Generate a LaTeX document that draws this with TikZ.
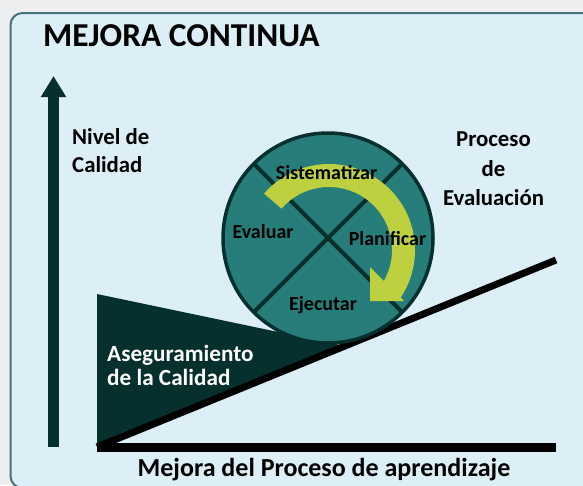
\documentclass[tikz,border=0pt]{standalone}
\usepackage{fontspec}
\setmainfont{Carlito}
\usetikzlibrary{arrows.meta}

\definecolor{pagegray}{HTML}{EDEEF0}
\definecolor{panelblue}{HTML}{DCEFF7}
\definecolor{panelrim}{HTML}{44737E}
\definecolor{darkteal}{HTML}{05302E}
\definecolor{wheelteal}{HTML}{267D79}
\definecolor{limegreen}{HTML}{BDD03F}

\tikzset{
  bigtext/.style={font=\fontsize{22.8}{29.5}\selectfont\bfseries, inner sep=0pt},
  steptext/.style={font=\fontsize{20}{24}\selectfont\bfseries, inner sep=0pt, anchor=base},
}

\begin{document}
\begin{tikzpicture}[x=1pt,y=-1pt]

% Draw the page and the panel
\fill[pagegray] (0,0) rectangle (583,485);
\useasboundingbox (0,0) rectangle (583,485);
\draw[panelrim,line width=2pt,fill=panelblue,rounded corners=12pt] (10.5,13) rectangle (600,488);

% Draw the title
\node[anchor=base west,inner sep=0pt,font=\fontsize{33.4}{40}\selectfont\bfseries] (title) at (43,46) {MEJORA CONTINUA};

% Draw the quality axis
\coordinate (axisfoot) at (53.5,447);
\coordinate (axistop) at (53.5,76);
\draw[darkteal,line width=11pt,-{Triangle[length=21pt,width=24pt]}] (axisfoot) -- (axistop);

% Draw the assurance wedge
\coordinate (origin) at (97,447);
\fill[darkteal] (97,294) -- (345,346) -- (origin) -- cycle;

% Draw the slope and the base line
\coordinate (slopeend) at (556,260);
\coordinate (baseend) at (556,447.5);
\draw[line width=7pt] (origin) -- (slopeend);
\draw[line width=8.5pt] (97,447.5) -- (baseend);

% Draw the wheel
\coordinate (hub) at (328,238);
\fill[wheelteal] (hub) circle[radius=105];
\foreach \a in {45,135}
  \draw[darkteal,line width=4pt] (hub) ++(\a:105) -- ++(\a+180:210);
\draw[darkteal,line width=3.5pt] (hub) circle[radius=105];

% Draw the curved arrow
\fill[limegreen] (264.1,193.6) arc[start angle=221,end angle=393.6,radius=86]
  -- (404,301) -- (370,301) -- (370,267) -- (383.9,280.9)
  arc[start angle=389.4,end angle=221,radius=63] -- cycle;

% Label the steps
\node[steptext] (sist) at (326.5,179) {Sistematizar};
\node[steptext] (eval) at (263,238) {Evaluar};
\node[steptext] (plan) at (387.5,245) {Planificar};
\node[steptext] (ejec) at (323,310) {Ejecutar};

% Label the axes and the wedge (base is the last line)
\node[bigtext,align=left,anchor=base west,font=\fontsize{22.8}{28.7}\selectfont\bfseries] (nivel) at (72,172.7) {Nivel de\\Calidad};
\node[bigtext,align=center,anchor=base] (proceso) at (493.5,205.7) {Proceso\\de\\Evaluación};
\node[bigtext,align=left,anchor=base west,text=white,font=\fontsize{23.2}{24}\selectfont\bfseries] (aseg) at (107,385.7) {Aseguramiento\\de la Calidad};
\node[anchor=base,inner sep=0pt,font=\fontsize{26}{31}\selectfont\bfseries] (mejora) at (324,476) {Mejora del Proceso de aprendizaje};

\end{tikzpicture}
\end{document}
